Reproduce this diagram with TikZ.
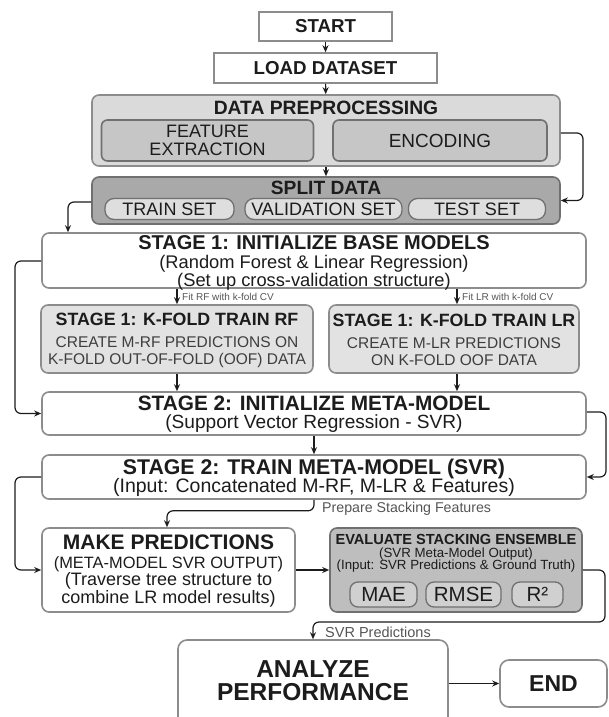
\documentclass[tikz,border=0pt]{standalone}
\usepackage{fontspec}
\setmainfont{Liberation Sans}
\usetikzlibrary{arrows.meta}

\definecolor{ink}{HTML}{1C1C1C}
\definecolor{edge}{HTML}{8C8C8C}
\definecolor{darkedge}{HTML}{707070}
\definecolor{notegray}{HTML}{555555}
\definecolor{prepfill}{HTML}{DADADA}
\definecolor{prepinner}{HTML}{C6C6C6}
\definecolor{splitfill}{HTML}{A9A9A9}
\definecolor{pillfill}{HTML}{DEDEDE}
\definecolor{foldfill}{HTML}{E2E2E2}
\definecolor{evalfill}{HTML}{BEBEBE}
\definecolor{evalpill}{HTML}{D0D0D0}

\newcommand\fs[1]{\fontsize{#1}{#1}\selectfont}

\tikzset{
  plainbox/.style={draw=edge, line width=1.5pt, fill=white, inner sep=0pt, text=ink,
    font=\bfseries\fs{18.7}},
  box/.style={draw=edge, line width=1.6pt, rounded corners=7pt, fill=white, inner sep=0pt},
  txt/.style={inner sep=0pt, align=center, text=ink},
  pill/.style={draw=darkedge, line width=1.3pt, rounded corners=9pt, fill=pillfill,
    inner sep=0pt, text=ink, font=\fs{18}},
  flow/.style={draw=ink, line width=1.2pt, rounded corners=6pt,
    -{Stealth[length=7pt,width=6pt]}},
  note/.style={inner sep=0pt, anchor=west, text=notegray},
}

\begin{document}
\begin{tikzpicture}[x=1pt,y=-1pt]
\useasboundingbox (0,0) rectangle (608,717);

% ---- entry ----
\node[plainbox, minimum width=133, minimum height=29] (start) at (325.5,26.5) {START};
\node[plainbox, minimum width=223, minimum height=30] (load) at (325.5,68) {LOAD DATASET};

% ---- preprocessing ----
\node[box, fill=prepfill, minimum width=468, minimum height=71] (dp) at (326,130.5) {};
\node[txt, font=\bfseries\fs{19.3}] (dpt) at (326,108) {DATA PREPROCESSING};
\node[box, draw=darkedge, fill=prepinner, rounded corners=6pt, minimum width=212, minimum height=41,
      text=ink, align=center, font=\fontsize{18}{17.5}\selectfont] (fe) at (207.5,140.5) {FEATURE\\EXTRACTION};
\node[box, draw=darkedge, fill=prepinner, rounded corners=6pt, minimum width=214, minimum height=41,
      text=ink, font=\fs{19}] (enc) at (440,140.5) {ENCODING};

% ---- split ----
\node[box, draw=darkedge, fill=splitfill, minimum width=468, minimum height=47] (split) at (326,200.5) {};
\node[txt, font=\bfseries\fs{19.2}] (splitt) at (326,188) {SPLIT DATA};
\node[pill, minimum width=129, minimum height=21] (train) at (169.5,209) {TRAIN SET};
\node[pill, minimum width=157, minimum height=21] (valid) at (323.5,209) {VALIDATION SET};
\node[pill, minimum width=137, minimum height=21] (test) at (477,209) {TEST SET};

% ---- stage 1 ----
\node[box, minimum width=544, minimum height=55] (s1) at (314,260.5) {};
\node[txt, font=\fontsize{18.3}{17}\selectfont] (s1x) at (314,262.5) {%
  {\bfseries\fs{20}STAGE 1: INITIALIZE BASE MODELS}\\[2pt]
  (Random Forest \& Linear Regression)\\
  (Set up cross-validation structure)};

\node[box, fill=foldfill, minimum width=272, minimum height=68] (krf) at (177,339) {};
\node[txt, font=\fontsize{15.5}{17}\selectfont, text=ink!85] (krfx) at (177,340) {%
  {\bfseries\fs{17.8}\color{ink}STAGE 1: K-FOLD TRAIN RF}\\[5pt]
  CREATE M-RF PREDICTIONS ON\\
  K-FOLD OUT-OF-FOLD (OOF) DATA};
\node[box, fill=foldfill, minimum width=250, minimum height=68] (klr) at (454,339) {};
\node[txt, font=\fontsize{15.5}{17}\selectfont, text=ink!85] (klrx) at (454,340) {%
  {\bfseries\fs{17.8}\color{ink}STAGE 1: K-FOLD TRAIN LR}\\[5pt]
  CREATE M-LR PREDICTIONS\\
  ON K-FOLD OOF DATA};

% ---- stage 2 ----
\node[box, minimum width=544, minimum height=43] (s2i) at (314,413.5) {};
\node[txt, font=\fontsize{19.1}{19}\selectfont] (s2ix) at (314,414) {%
  {\bfseries\fs{20.8}STAGE 2: INITIALIZE META-MODEL}\\[-1pt]
  (Support Vector Regression - SVR)};
\node[box, minimum width=544, minimum height=44] (s2t) at (314,477) {};
\node[txt, font=\fontsize{19.5}{19}\selectfont] (s2tx) at (314,477.5) {%
  {\bfseries\fs{21.3}STAGE 2: TRAIN META-MODEL (SVR)}\\[-1pt]
  (Input: Concatenated M-RF, M-LR \& Features)};

% ---- predictions and evaluation ----
\node[box, minimum width=253, minimum height=84] (mp) at (168.5,570) {};
\node[txt, font=\fontsize{18}{18}\selectfont] (mpx) at (168.5,571) {%
  {\bfseries\fs{21}MAKE PREDICTIONS}\\[1pt]
  {\fs{16.4}(META-MODEL SVR OUTPUT)}\\[-1pt]
  (Traverse tree structure to\\
  combine LR model results)};

\node[box, draw=darkedge, fill=evalfill, minimum width=252, minimum height=84] (ev) at (456,570) {};
\node[txt, font=\fontsize{13.3}{13}\selectfont] (evx) at (456,553) {%
  {\bfseries\fs{14.6}EVALUATE STACKING ENSEMBLE}\\[0pt]
  (SVR Meta-Model Output)\\[-1pt]
  (Input: SVR Predictions \& Ground Truth)};
\node[pill, fill=evalpill, rounded corners=8pt, minimum width=67, minimum height=25, font=\fs{20.5}] (mae) at (383.5,594.5) {MAE};
\node[pill, fill=evalpill, rounded corners=8pt, minimum width=75, minimum height=25, font=\fs{20.5}] (rmse) at (463.5,594.5) {RMSE};
\node[pill, fill=evalpill, rounded corners=8pt, minimum width=51, minimum height=25, font=\fs{20.5}] (rsq) at (537.5,594.5) {R²};

% ---- exit ----
\node[box, rounded corners=9pt, minimum width=270, minimum height=92] (an) at (313,686) {};
\node[txt, font=\bfseries\fontsize{24.5}{23}\selectfont] (anx) at (313,681) {ANALYZE\\PERFORMANCE};
\node[box, rounded corners=9pt, minimum width=107, minimum height=47, text=ink,
      font=\bfseries\fs{23}] (end) at (553.5,683.5) {END};

% ---- connector bends ----
\coordinate (dpr) at (583,133);
\coordinate (spl) at (68,202);
\coordinate (lp1) at (15,261);
\coordinate (rp1) at (606,412);
\coordinate (lp2) at (15,477);
\coordinate (evr) at (605,622);

% ---- connectors ----
\draw[flow] (start) -- (load);
\draw[flow] (load) -- (dp);
\draw[flow] (dp) -- (split);
\draw[flow] (dp.east |- dpr) -- (dpr) |- (split.east);
\draw[flow] (split.west |- spl) -- (spl) -- (spl |- s1.north);
\draw[flow] (s1.west |- lp1) -- (lp1) |- (s2i.west);
\draw[flow] (krf.north |- s1.south) -- (krf.north);
\draw[flow] ([xshift=3pt]klr.north |- s1.south) -- ([xshift=3pt]klr.north);
\draw[flow] (krf.south) -- (krf.south |- s2i.north);
\draw[flow] ([xshift=3pt]klr.south) -- ([xshift=3pt]klr.south |- s2i.north);
\draw[flow] (s2i.east |- rp1) -- (rp1) |- (s2t.east);
\draw[flow] (s2i) -- (s2t);
\draw[flow] (s2t.west) -- (lp2) |- (mp.west);
\draw[flow] (s2t.south) -- ++(0,11) -| ([xshift=-1.5pt]mp.north);
\draw[flow] (mp) -- (ev);
\draw[flow] (ev.east) -| (evr) -| (an.north);
\draw[flow] (an.east |- end.west) -- (end.west);

% ---- connector labels ----
\node[note, font=\fs{10}] (fitrf) at (182,297) {Fit RF with k-fold CV};
\node[note, font=\fs{10}] (fitlr) at (462,297) {Fit LR with k-fold CV};
\node[note, font=\fs{14.2}] (prep) at (322,508.5) {Prepare Stacking Features};
\node[note, font=\fs{14.5}] (svrp) at (325,632) {SVR Predictions};
\end{tikzpicture}
\end{document}
